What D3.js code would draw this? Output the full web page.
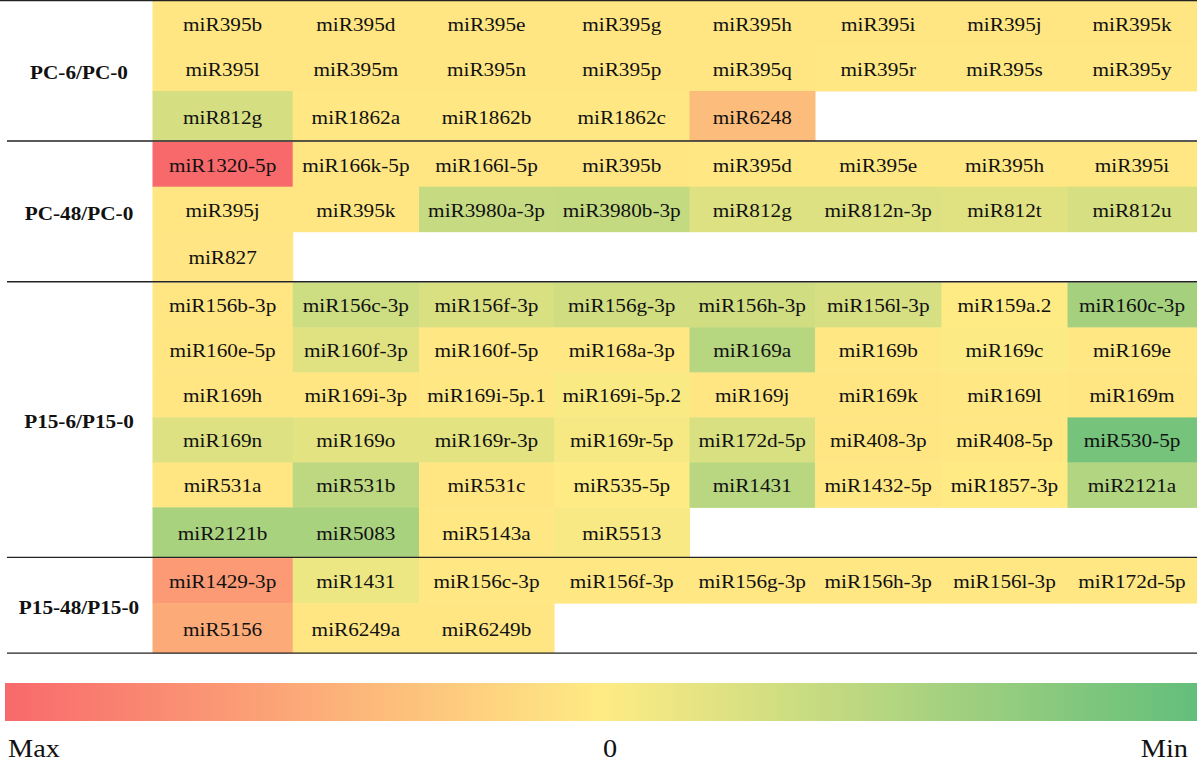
<!DOCTYPE html>
<html>
<head>
<meta charset="utf-8">
<script src="https://cdn.jsdelivr.net/npm/d3@7"></script>
<style>
  html, body { margin: 0; padding: 0; background: #fff; }
  svg { display: block; }
  text { font-family: "Liberation Serif", "Times New Roman", serif; fill: #111; }
</style>
</head>
<body>
<div id="chart"></div>
<script>
// ---------------- DATA ----------------
const groups = ["PC-6/PC-0", "PC-48/PC-0", "P15-6/P15-0", "P15-48/P15-0"];

const mirPC6 = ["miR395b","miR395d","miR395e","miR395g","miR395h","miR395i","miR395j","miR395k",
  "miR395l","miR395m","miR395n","miR395p","miR395q","miR395r","miR395s","miR395y",
  "miR812g","miR1862a","miR1862b","miR1862c","miR6248"];
const valPC6 = [0.04,0.04,0.04,0.04,0.04,0.04,0.04,0.04,
  0.04,0.04,0.04,0.04,0.04,0.03,0.03,0.03,
  -0.27,0.03,0.03,0.03,0.36];

const mirPC48 = ["miR1320-5p","miR166k-5p","miR166l-5p","miR395b","miR395d","miR395e","miR395h","miR395i",
  "miR395j","miR395k","miR3980a-3p","miR3980b-3p","miR812g","miR812n-3p","miR812t","miR812u",
  "miR827"];
const valPC48 = [1.0,0.04,0.04,0.04,0.03,0.03,0.03,0.03,
  0.04,0.04,-0.37,-0.38,-0.22,-0.22,-0.2,-0.26,
  0.05];

const mirP156 = ["miR156b-3p","miR156c-3p","miR156f-3p","miR156g-3p","miR156h-3p","miR156l-3p","miR159a.2","miR160c-3p",
  "miR160e-5p","miR160f-3p","miR160f-5p","miR168a-3p","miR169a","miR169b","miR169c","miR169e",
  "miR169h","miR169i-3p","miR169i-5p.1","miR169i-5p.2","miR169j","miR169k","miR169l","miR169m",
  "miR169n","miR169o","miR169r-3p","miR169r-5p","miR172d-5p","miR408-3p","miR408-5p","miR530-5p",
  "miR531a","miR531b","miR531c","miR535-5p","miR1431","miR1432-5p","miR1857-3p","miR2121a",
  "miR2121b","miR5083","miR5143a","miR5513"];
const valP156 = [0.04,-0.32,-0.25,-0.3,-0.3,-0.26,0.0,-0.58,
  0.04,-0.2,0.03,0.02,-0.46,0.03,-0.02,0.03,
  0.04,0.04,0.02,-0.03,0.04,0.04,0.02,0.04,
  -0.22,-0.17,-0.18,-0.06,-0.25,0.04,0.03,-0.88,
  0.04,-0.42,0.04,0.0,-0.45,0.02,0.01,-0.5,
  -0.55,-0.55,0.02,-0.04];

const mirP1548 = ["miR1429-3p","miR1431","miR156c-3p","miR156f-3p","miR156g-3p","miR156h-3p","miR156l-3p","miR172d-5p",
  "miR5156","miR6249a","miR6249b"];
const valP1548 = [0.62,-0.12,0.03,0.03,0.03,0.03,0.03,0.03,
  0.49,0.04,0.04];

const legendTicks = ["Max", "0", "Min"];
const legendValues = [1, 0, -1];

// ---------------- LAYOUT ----------------
const W = 1200, H = 762;
const nCols = 8;
const colEdges = [152.5, 292.7, 419, 554, 689.5, 815, 941.5, 1067.5, 1196.5];
const rowH = 45, lastPad = 5, lineGap = 0.7;
const labelX = 79;
const stretch = 1.09;

const color = d3.scaleLinear()
  .domain([1, 0, -1])
  .range(["#F8696B", "#FFEB84", "#63BE7B"])
  .interpolate(d3.interpolateRgb)
  .clamp(true);

const xStart = d3.scaleOrdinal().domain(d3.range(nCols)).range(colEdges.slice(0, nCols));
const xEnd = d3.scaleOrdinal().domain(d3.range(nCols)).range(colEdges.slice(1));

const sectionData = [
  { name: groups[0], mirs: mirPC6, vals: valPC6 },
  { name: groups[1], mirs: mirPC48, vals: valPC48 },
  { name: groups[2], mirs: mirP156, vals: valP156 },
  { name: groups[3], mirs: mirP1548, vals: valP1548 }
];

let yCursor = 1;
sectionData.forEach(s => {
  s.rows = Math.ceil(s.mirs.length / nCols);
  s.top = yCursor;
  s.bottom = yCursor + s.rows * rowH + lastPad;
  yCursor = s.bottom + lineGap;
});

const svg = d3.select("#chart").append("svg")
  .attr("width", W).attr("height", H);

// cells
sectionData.forEach(s => {
  const yBand = d3.scaleLinear().domain([0, s.rows]).range([s.top, s.top + s.rows * rowH]);
  const cells = s.mirs.map((m, i) => ({
    name: m, value: s.vals[i], col: i % nCols, row: Math.floor(i / nCols)
  }));
  const g = svg.append("g");
  g.selectAll("rect").data(cells).join("rect")
    .attr("x", d => xStart(d.col))
    .attr("y", d => yBand(d.row))
    .attr("width", d => xEnd(d.col) - xStart(d.col) + 0.5)
    .attr("height", d => (d.row === s.rows - 1 ? s.bottom - yBand(d.row) : rowH + 0.5))
    .attr("fill", d => color(d.value));
  g.selectAll("text").data(cells).join("text")
    .attr("transform", d => {
      const cx = (xStart(d.col) + xEnd(d.col)) / 2;
      const y0 = yBand(d.row);
      const y1 = d.row === s.rows - 1 ? s.bottom : y0 + rowH;
      return `translate(${cx},${(y0 + y1) / 2 + 7.5}) scale(${stretch},1)`;
    })
    .attr("text-anchor", "middle")
    .style("font-size", "19.5px")
    .text(d => d.name);

  svg.append("text")
    .attr("transform", `translate(${labelX},${(s.top + s.bottom) / 2 + 8}) scale(${stretch},1)`)
    .attr("text-anchor", "middle")
    .style("font-size", "19.5px")
    .style("font-weight", "bold")
    .text(s.name);
});

// separator lines
svg.append("line")
  .attr("x1", 0).attr("x2", 1197).attr("y1", 0.6).attr("y2", 0.6)
  .attr("stroke", "#222").attr("stroke-width", 1.4);
sectionData.forEach(s => {
  svg.append("line")
    .attr("x1", 7).attr("x2", 1197).attr("y1", s.bottom).attr("y2", s.bottom)
    .attr("stroke", "#222").attr("stroke-width", 1.4);
});

// legend
const lx = d3.scaleLinear().domain([1, -1]).range([5, 1197]);
const defs = svg.append("defs");
const grad = defs.append("linearGradient").attr("id", "lg")
  .attr("x1", "0%").attr("x2", "100%").attr("y1", "0%").attr("y2", "0%");
d3.range(0, 1.0001, 0.05).forEach(t => {
  const v = 1 - 2 * t;
  grad.append("stop").attr("offset", (t * 100) + "%").attr("stop-color", color(v));
});
svg.append("rect")
  .attr("x", lx(1)).attr("y", 683)
  .attr("width", lx(-1) - lx(1)).attr("height", 38)
  .attr("fill", "url(#lg)");

svg.selectAll(".lt").data(legendValues).join("text")
  .attr("class", "lt")
  .attr("transform", (d, i) => {
    const px = i === 0 ? 8 : (i === 2 ? 1188 : lx(d) + 9);
    return `translate(${px},757) scale(${stretch},1)`;
  })
  .attr("text-anchor", (d, i) => i === 0 ? "start" : (i === 2 ? "end" : "middle"))
  .style("font-size", "26px")
  .text((d, i) => legendTicks[i]);
</script>
</body>
</html>
